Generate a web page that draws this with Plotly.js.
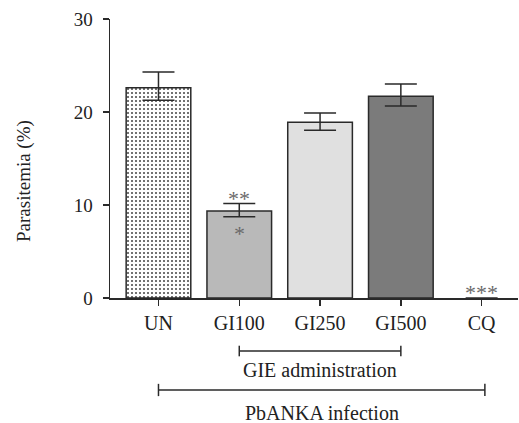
<!DOCTYPE html>
<html>
<head>
<meta charset="utf-8">
<script src="https://cdn.plot.ly/plotly-3.0.1.min.js"></script>
<style>html,body{margin:0;padding:0;background:#fff;}#chart{width:519px;height:423px;}</style>
</head>
<body>
<div id="chart"></div>
<script>
// Data
const categories = ['UN', 'GI100', 'GI250', 'GI500', 'CQ'];
const parasitemia = [22.6, 9.35, 18.9, 21.7, 0];
const errorPlus = [1.7, 0.8, 1.0, 1.3, 0];
const errorMinus = [1.35, 0.6, 0.85, 1.05, 0];
const barColors = ['#ffffff', '#b9b9b9', '#e0e0e0', '#7b7b7b', '#ffffff'];
const barPatterns = ['.', '', '', '', ''];
const yTicks = [0, 10, 20, 30];
const yTitle = 'Parasitemia (%)';
const significance = [
  {cat: 'GI100', text: '**', where: 'above'},
  {cat: 'GI100', text: '*', where: 'inside'},
  {cat: 'CQ', text: '***', where: 'base'}
];
const gieGroup = ['GI100', 'GI500'];
const infectionGroup = ['UN', 'CQ'];

const serif = 'Liberation Serif';
const ink = '#2a2a2a';

const trace = {
  type: 'bar',
  x: categories,
  y: parasitemia,
  marker: {
    color: barColors,
    line: {color: ink, width: [1.5, 1.5, 1.5, 1.5, 0]},
    pattern: {shape: barPatterns, fgcolor: '#333333', fgopacity: 1, size: 4, solidity: 0.2, fillmode: 'overlay'}
  },
  error_y: {
    type: 'data', symmetric: false,
    array: errorPlus, arrayminus: errorMinus,
    color: ink, thickness: 1.5, width: 16
  },
  hoverinfo: 'none'
};

const annotations = significance.map(s => {
  const i = categories.indexOf(s.cat);
  let y, anchor, shift;
  if (s.where === 'above') { y = parasitemia[i] + errorPlus[i]; anchor = 'bottom'; shift = -9; }
  else if (s.where === 'inside') { y = parasitemia[i] - errorMinus[i]; anchor = 'top'; shift = -2; }
  else { y = 0; anchor = 'bottom'; shift = -9; }
  return {x: s.cat, y: y, xref: 'x', yref: 'y', text: s.text, showarrow: false,
          yanchor: anchor, yshift: shift, font: {family: serif, size: 22, color: '#6a6a6a'}};
});

function groupCenter(g) { return (categories.indexOf(g[0]) + categories.indexOf(g[1])) / 2; }
annotations.push({x: groupCenter(gieGroup), y: -0.258, xref: 'x', yref: 'paper', text: 'GIE administration',
  showarrow: false, yanchor: 'middle', font: {family: serif, size: 20, color: '#222'}});
annotations.push({x: groupCenter(infectionGroup) + 0.02, y: -0.412, xref: 'x', yref: 'paper', text: 'PbANKA infection',
  showarrow: false, yanchor: 'middle', font: {family: serif, size: 20, color: '#222'}});
annotations.push({x: -0.211, y: 0.419, xref: 'paper', yref: 'paper', text: yTitle, textangle: -90,
  showarrow: false, xanchor: 'center', yanchor: 'middle', font: {family: serif, size: 19, color: '#222'}});

function bracket(g, yp, half, extra) {
  const a = categories.indexOf(g[0]), b = categories.indexOf(g[1]) + (extra || 0);
  const ln = {color: ink, width: 1.5};
  return [
    {type: 'line', xref: 'x', yref: 'paper', x0: a, x1: b, y0: yp, y1: yp, line: ln},
    {type: 'line', xref: 'x', yref: 'paper', x0: a, x1: a, y0: yp - half, y1: yp + half, line: ln},
    {type: 'line', xref: 'x', yref: 'paper', x0: b, x1: b, y0: yp - half, y1: yp + half, line: ln}
  ];
}
const shapes = [].concat(bracket(gieGroup, -0.19, 0.019), bracket(infectionGroup, -0.3297, 0.022, 0.04));

const layout = {
  width: 519, height: 423,
  margin: {l: 110, r: 1, t: 19, b: 125},
  paper_bgcolor: '#fff', plot_bgcolor: '#fff',
  showlegend: false,
  bargap: 0.2,
  xaxis: {
    type: 'category', categoryorder: 'array', categoryarray: categories,
    range: [-0.6, 4.45],
    showline: true, linecolor: ink, linewidth: 1.5,
    ticks: 'outside', ticklen: 6, tickwidth: 1.5, tickcolor: ink,
    showgrid: false, zeroline: false,
    tickfont: {family: serif, size: 20, color: '#222'},
    automargin: false
  },
  yaxis: {
    range: [0, 30], tickvals: yTicks, ticktext: yTicks.map(String),
    showline: true, linecolor: ink, linewidth: 1.5,
    ticks: 'outside', ticklen: 6, tickwidth: 1.5, tickcolor: ink,
    showgrid: false, zeroline: false,
    tickfont: {family: serif, size: 19, color: '#222'},
    ticklabelstandoff: 6,
    automargin: false
  },
  annotations: annotations,
  shapes: shapes
};

Plotly.newPlot('chart', [trace], layout, {displayModeBar: false, staticPlot: true});
</script>
</body>
</html>
